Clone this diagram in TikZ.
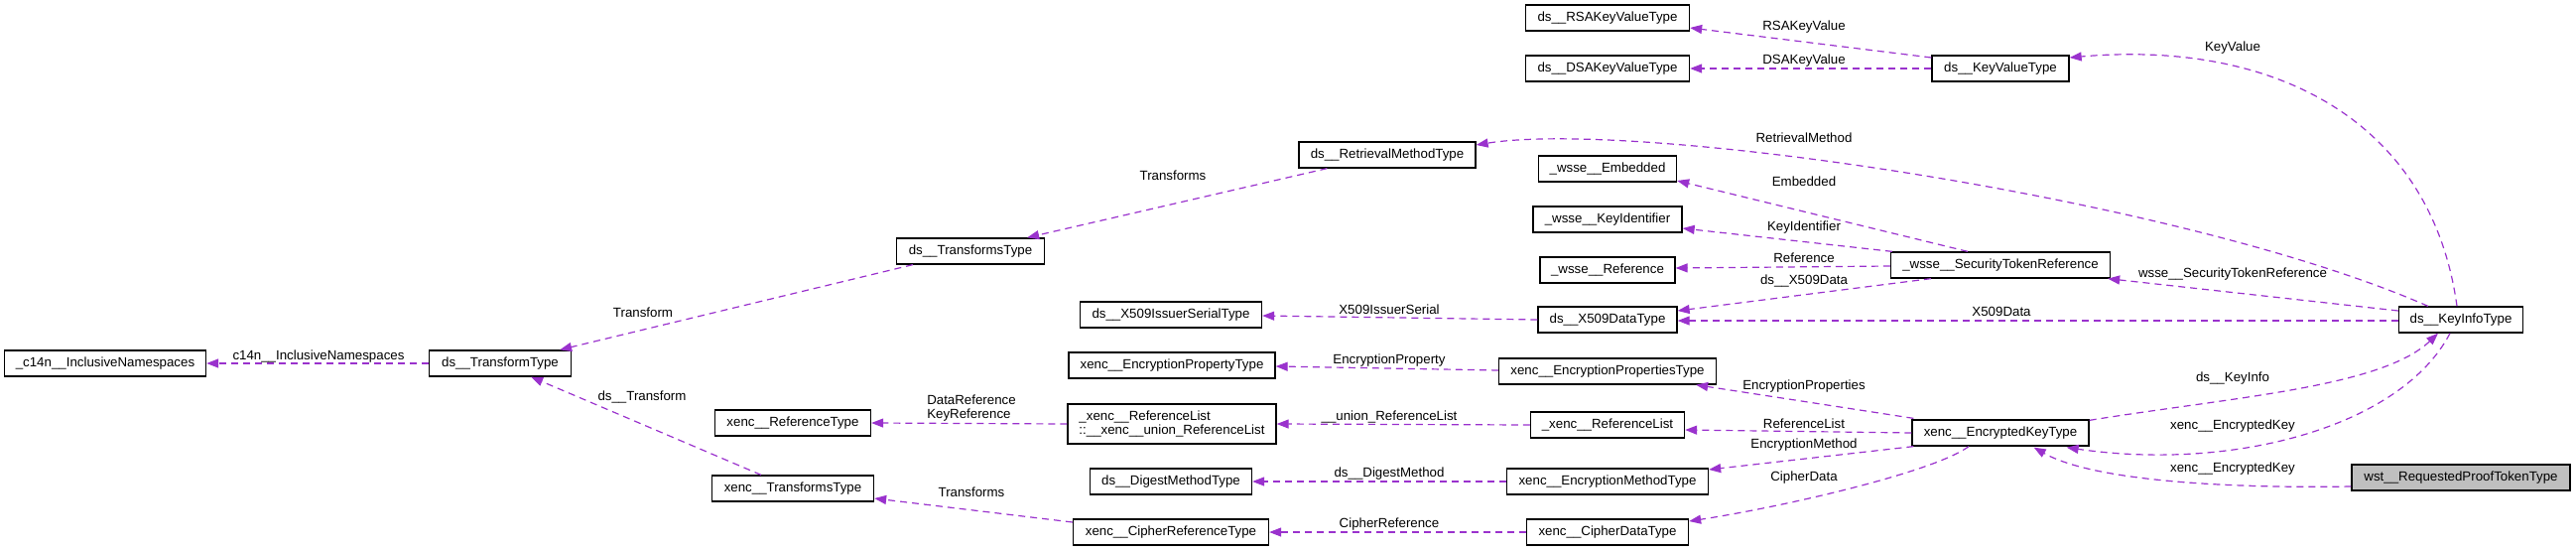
\documentclass[tikz,border=0pt]{standalone}
\usepackage{fontspec}
\setmainfont{Liberation Sans}
\usetikzlibrary{arrows.meta,calc}
\definecolor{edgec}{HTML}{9A32CD}
\definecolor{grayfill}{HTML}{BFBFBF}
\begin{document}
\begin{tikzpicture}[x=1pt,y=-1pt,
  box/.style={draw=black,line width=1.3pt,fill=white,minimum height=26pt,inner sep=0pt,font=\fontsize{13.3}{14}\selectfont,text=black},
  lbl/.style={inner sep=0pt,font=\fontsize{13.3}{14}\selectfont,text=black},
  rel/.style={draw=edgec,line width=1.2pt,dash pattern=on 7pt off 5pt,-{Triangle[length=12pt,width=9pt]}}]
\useasboundingbox (0,0) rectangle (2596,555);
% nodes
\node[box,minimum width=203pt] (c14n) at (106,366) {\_c14n\_\_InclusiveNamespaces};
\node[box,minimum width=143pt] (tft) at (504,366) {ds\_\_TransformType};
\node[box,minimum width=157pt] (xref) at (799,426) {xenc\_\_ReferenceType};
\node[box,minimum width=163pt] (xtt) at (799,492) {xenc\_\_TransformsType};
\node[box,minimum width=149pt] (dstt) at (978,253) {ds\_\_TransformsType};
\node[box,minimum width=178pt] (rmt) at (1398,156) {ds\_\_RetrievalMethodType};
\node[box,minimum width=183pt] (issuer) at (1180,317) {ds\_\_X509IssuerSerialType};
\node[box,minimum width=208pt] (eprop) at (1181,368) {xenc\_\_EncryptionPropertyType};
\node[box,minimum width=210pt,minimum height=40pt,align=left] (union) at (1181,427) {\_xenc\_\_ReferenceList\\::\_\_xenc\_\_union\_ReferenceList};
\node[box,minimum width=163pt] (digest) at (1180,485) {ds\_\_DigestMethodType};
\node[box,minimum width=197pt] (cref) at (1180,536) {xenc\_\_CipherReferenceType};
\node[box,minimum width=165pt] (rsa) at (1620,18) {ds\_\_RSAKeyValueType};
\node[box,minimum width=165pt] (dsa) at (1620,69) {ds\_\_DSAKeyValueType};
\node[box,minimum width=139pt] (emb) at (1620,170) {\_wsse\_\_Embedded};
\node[box,minimum width=150pt] (keyid) at (1620,221) {\_wsse\_\_KeyIdentifier};
\node[box,minimum width=136pt] (wref) at (1620,272) {\_wsse\_\_Reference};
\node[box,minimum width=140pt] (x509) at (1620,322) {ds\_\_X509DataType};
\node[box,minimum width=219pt] (eprops) at (1620,374) {xenc\_\_EncryptionPropertiesType};
\node[box,minimum width=155pt] (reflist) at (1620,428) {\_xenc\_\_ReferenceList};
\node[box,minimum width=203pt] (emeth) at (1620,485) {xenc\_\_EncryptionMethodType};
\node[box,minimum width=163pt] (cdata) at (1620,536) {xenc\_\_CipherDataType};
\node[box,minimum width=138pt] (kv) at (2016,69) {ds\_\_KeyValueType};
\node[box,minimum width=221pt] (str) at (2016,267) {\_wsse\_\_SecurityTokenReference};
\node[box,minimum width=178pt] (ekt) at (2016,436) {xenc\_\_EncryptedKeyType};
\node[box,minimum width=125pt] (kit) at (2480,322) {ds\_\_KeyInfoType};
\node[box,minimum width=220pt,fill=grayfill] (wst) at (2480,481) {wst\_\_RequestedProofTokenType};
% edges
\draw[rel] (tft.west) -- (c14n.east);
\draw[rel] ($(dstt.south west)+(17,0)$) -- ($(tft.north east)+(-12,0)$);
\draw[rel] ($(xtt.north)+(-32,0)$) -- ($(tft.south east)+(-41,0)$);
\draw[rel] ($(rmt.south west)+(29,0)$) -- ($(dstt.north east)+(-18,0)$);
\draw[rel] ($(kv.west)+(0,-11)$) -- ($(rsa.east)+(0,10)$);
\draw[rel] (kv.west) -- (dsa.east);
\draw[rel] ($(kit.north)+(-4,0)$) .. controls (2450,120) and (2290,40) .. ($(kv.east)+(0,-11)$);
\draw[rel] ($(kit.north west)+(30,0)$) .. controls (2200,200) and (1650,120) .. ($(rmt.east)+(0,-10)$);
\draw[rel] ($(str.north)+(-33,0)$) -- ($(emb.east)+(0,12)$);
\draw[rel] ($(str.north west)+(2,0)$) -- ($(keyid.east)+(0,9)$);
\draw[rel] ($(str.west)+(0,1)$) -- ($(wref.east)+(0,-2)$);
\draw[rel] ($(str.south west)+(41,0)$) -- ($(x509.east)+(0,-9)$);
\draw[rel] ($(kit.west)+(0,-9)$) -- ($(str.south east)+(-3,0)$);
\draw[rel] ($(kit.west)+(0,1)$) -- ($(x509.east)+(0,1)$);
\draw[rel] (x509.west) -- ($(issuer.east)+(0,1)$);
\draw[rel] ($(eprops.west)+(0,-1)$) -- ($(eprop.east)+(0,1)$);
\draw[rel] ($(ekt.north west)+(2,-1)$) -- ($(eprops.south east)+(-21,0)$);
\draw[rel] (reflist.west) -- (union.east);
\draw[rel] (union.west) -- (xref.east);
\draw[rel] (ekt.west) -- ($(reflist.east)+(0,5)$);
\draw[rel] ($(ekt.south west)+(2,0)$) -- ($(emeth.east)+(0,-12)$);
\draw[rel] (emeth.west) -- (digest.east);
\draw[rel] ($(ekt.south)+(-32,0)$) .. controls (1950,475) and (1800,510) .. ($(cdata.east)+(0,-11)$);
\draw[rel] (cdata.west) -- (cref.east);
\draw[rel] ($(cref.west)+(0,-10)$) -- ($(xtt.east)+(0,10)$);
\draw[rel] ($(ekt.north east)+(0,1)$) .. controls (2250,400) and (2400,390) .. ($(kit.south)+(-23,0)$);
\draw[rel] ($(kit.south)+(-11,0)$) .. controls (2420,430) and (2250,475) .. ($(ekt.south east)+(-23,1)$);
\draw[rel] ($(wst.west)+(0,9)$) .. controls (2250,492) and (2110,485) .. ($(ekt.south east)+(-56,1)$);
% labels
\node[lbl] (l1) at (321,359) {c14n\_\_InclusiveNamespaces};
\node[lbl] (l2) at (648,315) {Transform};
\node[lbl] (l3) at (647,400) {ds\_\_Transform};
\node[lbl] (l4) at (1182,177) {Transforms};
\node[lbl] (l5) at (1818,27) {RSAKeyValue};
\node[lbl] (l6) at (1818,61) {DSAKeyValue};
\node[lbl] (l7) at (2250,48) {KeyValue};
\node[lbl] (l8) at (1818,139) {RetrievalMethod};
\node[lbl] (l9) at (1818,183) {Embedded};
\node[lbl] (l10) at (1818,229) {KeyIdentifier};
\node[lbl] (l11) at (1818,260) {Reference};
\node[lbl] (l12) at (1818,283) {ds\_\_X509Data};
\node[lbl] (l13) at (2250,276) {wsse\_\_SecurityTokenReference};
\node[lbl] (l14) at (2017,314) {X509Data};
\node[lbl] (l15) at (1400,312) {X509IssuerSerial};
\node[lbl] (l16) at (1400,363) {EncryptionProperty};
\node[lbl] (l17) at (1818,389) {EncryptionProperties};
\node[lbl] (l18) at (1400,420) {\_\_union\_ReferenceList};
\node[lbl,align=left] (l19) at (979,411) {DataReference\\KeyReference};
\node[lbl] (l20) at (1818,427) {ReferenceList};
\node[lbl] (l21) at (1818,448) {EncryptionMethod};
\node[lbl] (l22) at (1400,477) {ds\_\_DigestMethod};
\node[lbl] (l23) at (1818,481) {CipherData};
\node[lbl] (l24) at (1400,528) {CipherReference};
\node[lbl] (l25) at (979,496) {Transforms};
\node[lbl] (l26) at (2250,381) {ds\_\_KeyInfo};
\node[lbl] (l27) at (2250,429) {xenc\_\_EncryptedKey};
\node[lbl] (l28) at (2250,472) {xenc\_\_EncryptedKey};
\end{tikzpicture}
\end{document}
